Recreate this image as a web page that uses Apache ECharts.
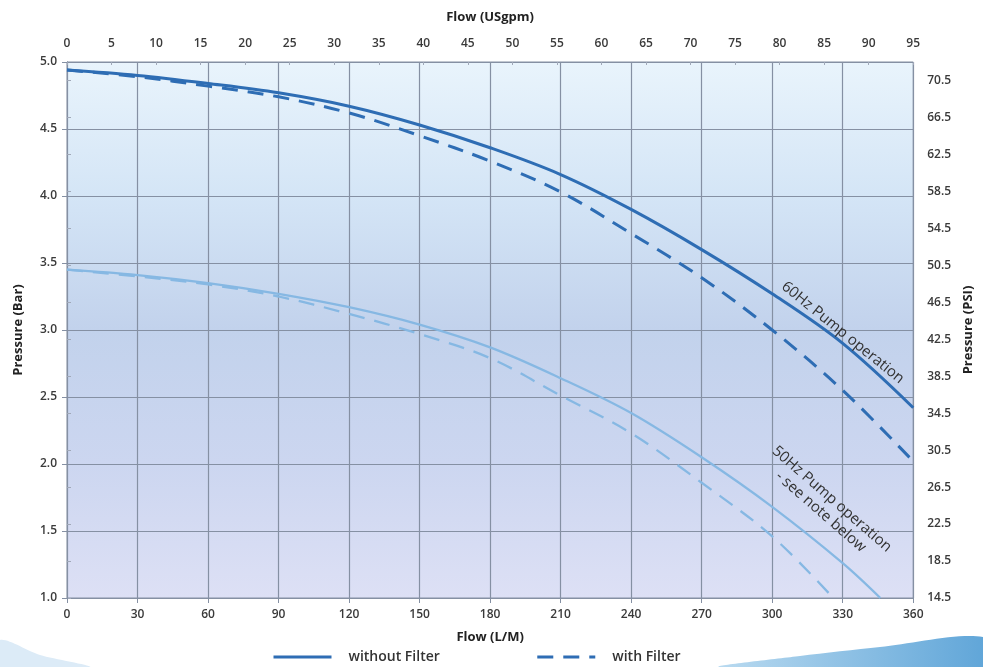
<!DOCTYPE html>
<html>
<head>
<meta charset="utf-8">
<script src="https://cdn.jsdelivr.net/npm/echarts@6/dist/echarts.min.js"></script>
<style>
html,body{margin:0;padding:0;background:#fff;}
#c{width:983px;height:667px;}
</style>
</head>
<body>
<div id="c"></div>
<script>
// ---- data (Flow in L/M, Pressure in Bar) ----
var flowLM = [0, 30, 60, 90, 120, 150, 180, 210, 240, 270, 300, 330, 360];
var p60NoFilter = [4.94, 4.90, 4.84, 4.77, 4.67, 4.53, 4.36, 4.16, 3.90, 3.60, 3.27, 2.90, 2.42];
var p60Filter   = [4.94, 4.89, 4.82, 4.74, 4.62, 4.45, 4.26, 4.03, 3.72, 3.39, 3.00, 2.55, 2.02];
var flow50NoFilter = [0, 30, 60, 90, 120, 150, 180, 210, 240, 270, 300, 330, 346];
var p50NoFilter    = [3.45, 3.41, 3.35, 3.27, 3.17, 3.04, 2.87, 2.64, 2.38, 2.05, 1.68, 1.26, 1.0];
var flow50Filter = [0, 30, 60, 90, 120, 150, 180, 210, 240, 270, 300, 326];
var p50Filter    = [3.45, 3.40, 3.34, 3.25, 3.12, 2.97, 2.79, 2.51, 2.23, 1.86, 1.46, 1.0];
// axes
var lmMin = 0, lmMax = 360, lmStep = 30;
var gpmMin = 0, gpmMax = 95, gpmStep = 5;
var barMin = 1.0, barMax = 5.0, barStep = 0.5;
var psiMin = 14.5, psiMax = 72.5, psiStep = 4;
var legendNames = ['without Filter', 'with Filter'];
var labels = [
  {text: '60Hz Pump operation', at: [330, 2.98], angle: -39},
  {text: '50Hz Pump operation\n- see note below', at: [323, 1.69], angle: -41}
];

function zip(xs, ys){ return xs.map(function(x,i){ return [x, ys[i]]; }); }

var dark = '#2e6db4', light = '#86b8e3';
var txt = '#333';
var fontFam = '"Open Sans", "Noto Sans", sans-serif';
var gridColor = '#8590a3';

var chart = echarts.init(document.getElementById('c'), null, {renderer: 'canvas'});
var tickLbl = {color: '#3a3a3a', fontSize: 12, fontWeight: 600, fontFamily: fontFam};
var nameSt = {color: '#222', fontSize: 13, fontWeight: 'bold', fontFamily: fontFam};

var option = {
  animation: false,
  backgroundColor: '#ffffff',
  grid: {
    left: 67, right: 64, top: 62, bottom: 69, show: true,
    borderColor: gridColor, borderWidth: 1,
    backgroundColor: new echarts.graphic.LinearGradient(0, 0, 0, 1, [
      {offset: 0, color: '#e9f4fc'},
      {offset: 0.25, color: '#d4e5f6'},
      {offset: 0.5, color: '#c2d2ec'},
      {offset: 0.75, color: '#ccd6f0'},
      {offset: 1, color: '#dde0f5'}
    ])
  },
  xAxis: [{
    type: 'value', position: 'bottom', min: lmMin, max: lmMax, interval: lmStep,
    name: 'Flow (L/M)', nameLocation: 'middle', nameGap: 33, nameTextStyle: nameSt,
    axisLine: {show: true, lineStyle: {color: gridColor}},
    axisTick: {show: true, length: 5, lineStyle: {color: gridColor}},
    axisLabel: Object.assign({margin: 11}, tickLbl),
    splitLine: {show: true, lineStyle: {color: gridColor, width: 1.2}}
  }, {
    type: 'value', position: 'top', min: gpmMin, max: gpmMax, interval: gpmStep,
    name: 'Flow (USgpm)', nameLocation: 'middle', nameGap: 38, nameTextStyle: nameSt,
    axisLine: {show: true, lineStyle: {color: gridColor}},
    axisTick: {show: true, inside: true, length: 3, lineStyle: {color: '#a0a8b8'}},
    axisLabel: Object.assign({margin: 12}, tickLbl),
    splitLine: {show: false}
  }],
  yAxis: [{
    type: 'value', position: 'left', min: barMin, max: barMax, interval: barStep,
    name: 'Pressure (Bar)', nameLocation: 'middle', nameGap: 42, nameRotate: 90, nameTextStyle: nameSt,
    axisLine: {show: true, lineStyle: {color: gridColor}},
    axisTick: {show: true, length: 5, lineStyle: {color: gridColor}},
    axisLabel: Object.assign({margin: 10, formatter: function(v){ return v.toFixed(1); }}, tickLbl),
    splitLine: {show: true, lineStyle: {color: gridColor, width: 1.2}}
  }, {
    type: 'value', position: 'right', min: psiMin, max: psiMax, interval: psiStep,
    name: 'Pressure (PSI)', nameLocation: 'middle', nameGap: 44, nameRotate: 90, nameTextStyle: nameSt,
    axisLine: {show: true, lineStyle: {color: gridColor}},
    axisTick: {show: true, length: 4, lineStyle: {color: '#a0a8b8'}},
    axisLabel: Object.assign({margin: 14, showMaxLabel: false, formatter: function(v){ return v.toFixed(1); }}, tickLbl),
    splitLine: {show: false}
  }],
  legend: {
    data: legendNames,
    orient: 'horizontal',
    top: 650, left: 272, padding: 0,
    itemWidth: 58, itemHeight: 14, itemGap: 96,
    itemStyle: {opacity: 0},
    lineStyle: {width: 3},
    textStyle: {color: '#333', fontSize: 14, fontWeight: 600, fontFamily: fontFam, padding: [0, 0, 0, 12]}
  },
  series: [{
    name: legendNames[0], type: 'line', smooth: 0.35, symbol: 'none',
    xAxisIndex: 0, yAxisIndex: 0, data: zip(flowLM, p60NoFilter),
    lineStyle: {color: dark, width: 3}, itemStyle: {color: dark}, z: 4
  }, {
    name: legendNames[1], type: 'line', smooth: 0.35, symbol: 'none',
    xAxisIndex: 0, yAxisIndex: 0, data: zip(flowLM, p60Filter),
    lineStyle: {color: dark, width: 3, type: [16, 10]}, itemStyle: {color: dark}, z: 4
  }, {
    name: '50Hz without Filter', type: 'line', smooth: 0.35, symbol: 'none',
    xAxisIndex: 0, yAxisIndex: 0, data: zip(flow50NoFilter, p50NoFilter),
    lineStyle: {color: light, width: 2.3}, itemStyle: {color: light}, z: 3
  }, {
    name: '50Hz with Filter', type: 'line', smooth: 0.35, symbol: 'none',
    xAxisIndex: 0, yAxisIndex: 0, data: zip(flow50Filter, p50Filter),
    lineStyle: {color: light, width: 2.3, type: [16, 10]}, itemStyle: {color: light}, z: 3
  }],
  graphic: [{
    type: 'polygon', z: -1, silent: true,
    shape: {points: [[720, 667], [800, 656], [880, 647], [983, 637], [983, 667]], smooth: 0.3},
    style: {fill: new echarts.graphic.LinearGradient(0, 0, 1, 0, [
      {offset: 0, color: '#b9daf0'}, {offset: 1, color: '#5fa5d8'}])}
  }, {
    type: 'polygon', z: -1, silent: true,
    shape: {points: [[0, 640], [40, 655], [90, 667], [0, 667]], smooth: 0.3},
    style: {fill: '#dcebf7'}
  }]
};
chart.setOption(option);

// place annotation text using data coordinates
var g = option.graphic.slice();
labels.forEach(function(l){
  var p = chart.convertToPixel({xAxisIndex: 0, yAxisIndex: 0}, l.at);
  g.push({
    type: 'text', x: p[0], y: p[1], rotation: l.angle * Math.PI / 180, z: 10,
    style: {text: l.text, fill: txt, font: '15px ' + fontFam, align: 'center', verticalAlign: 'middle', lineHeight: 17}
  });
});
chart.setOption({graphic: g});
</script>
</body>
</html>
